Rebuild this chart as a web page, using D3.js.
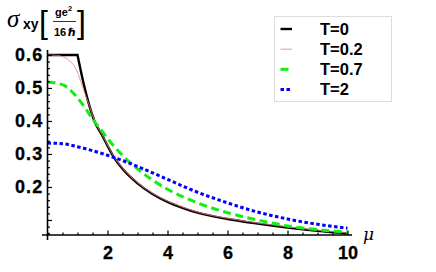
<!DOCTYPE html>
<html>
<head>
<meta charset="utf-8">
<script src="https://cdn.jsdelivr.net/npm/d3@7"></script>
<style>
  body { margin: 0; background: #fff; }
  svg { display: block; }
  text { font-family: "Liberation Sans", Arial, sans-serif; font-weight: bold; fill: #000; }
</style>
</head>
<body>
<svg id="chart" width="436" height="272"></svg>
<script>
'use strict';

// values
const t0Mu  = [0, 1, 1.2, 1.4, 1.6, 1.8, 2, 2.2, 2.5, 3, 3.5, 4, 4.5, 5, 6, 7, 8, 9, 10];
const t0Val = [0.6, 0.6, 0.515, 0.445, 0.392, 0.36, 0.325, 0.292, 0.255, 0.211, 0.179, 0.155, 0.137, 0.122, 0.103, 0.089, 0.077, 0.067, 0.059];

const t02Mu  = [0, 0.3, 0.5, 0.7, 0.9, 1, 1.1, 1.2, 1.3, 1.4, 1.6, 1.8, 2, 2.2, 2.5, 3, 3.5, 4, 4.5, 5, 6, 7, 8, 9, 10];
const t02Val = [0.6, 0.599, 0.595, 0.585, 0.565, 0.548, 0.522, 0.495, 0.47, 0.445, 0.394, 0.362, 0.327, 0.294, 0.257, 0.213, 0.181, 0.157, 0.139, 0.124, 0.105, 0.091, 0.079, 0.069, 0.061];

const t07Mu  = [0, 0.5, 0.8, 1, 1.25, 1.5, 1.75, 2, 2.25, 2.5, 2.75, 3, 3.5, 4, 4.5, 5, 6, 7, 8, 9, 10];
const t07Val = [0.518, 0.51, 0.49, 0.47, 0.44, 0.406, 0.377, 0.347, 0.32, 0.296, 0.274, 0.255, 0.221, 0.193, 0.171, 0.152, 0.122, 0.1, 0.082, 0.071, 0.063];

const t2Mu  = [0, 0.5, 1, 1.5, 2, 2.5, 3, 3.5, 4, 4.5, 5, 6, 7, 8, 9, 10];
const t2Val = [0.333, 0.331, 0.322, 0.31, 0.296, 0.28, 0.262, 0.243, 0.223, 0.203, 0.184, 0.152, 0.124, 0.103, 0.087, 0.075];

const xMajor = [2, 4, 6, 8, 10];
const yMajor = [0.2, 0.3, 0.4, 0.5, 0.6];
const yMajorUnlabeled = [0.1];
const legendLabels = ['T=0', 'T=0.2', 'T=0.7', 'T=2'];

const series = [
  {mu: t0Mu,  val: t0Val,  color: '#000000', width: 2.4, dash: null, kink: 1},
  {mu: t02Mu, val: t02Val, color: '#f07878', width: 0.8, dash: null},
  {mu: t07Mu, val: t07Val, color: '#11ee11', width: 3,   dash: '8,4.5'},
  {mu: t2Mu,  val: t2Val,  color: '#0000ff', width: 3,   dash: '3.5,2.5'}
];

const svg = d3.select('#chart');
const x = d3.scaleLinear().domain([0, 10.15]).range([47.5, 352]);
const y = d3.scaleLinear().domain([0.0545, 0.615]).range([235, 50]);

/***** CURVES *****/
const smooth = d3.line().x(d => x(d[0])).y(d => y(d[1])).curve(d3.curveMonotoneX);
const straight = d3.line().x(d => x(d[0])).y(d => y(d[1]));

series.forEach(s => {
  const pts = s.mu.map((m, i) => [m, s.val[i]]);
  let d;
  if (s.kink !== undefined) {
    const k = s.mu.indexOf(s.kink);
    d = straight(pts.slice(0, k + 1)) + smooth(pts.slice(k)).replace(/^M/, 'L');
  } else {
    d = smooth(pts);
  }
  svg.append('path')
     .attr('d', d)
     .attr('fill', 'none')
     .attr('stroke', s.color)
     .attr('stroke-width', s.width)
     .attr('stroke-dasharray', s.dash);
});

/***** AXES *****/
const xMinor = d3.range(0, 10.01, 0.5).filter(v => !xMajor.includes(v));
const yMinor = d3.range(0.06, 0.601, 0.02).filter(v => !yMajor.concat(yMajorUnlabeled).some(m => Math.abs(m - v) < 1e-6));

const gx = svg.append('g').attr('transform', 'translate(0,' + y.range()[0] + ')');
gx.append('g').call(d3.axisBottom(x).tickValues(xMinor).tickSize(-2.5).tickFormat(''));
gx.append('g').call(d3.axisBottom(x).tickValues(xMajor).tickSize(-4.5).tickPadding(9).tickFormat(d3.format('d')));
gx.selectAll('.domain').remove();
gx.selectAll('line').attr('stroke', '#000').attr('stroke-width', 1.2);
gx.selectAll('text').attr('font-size', 18).attr('font-family', null)
  .attr('stroke', '#000').attr('stroke-width', 0.3)
  .attr('dy', '0.72em').attr('y', 11);

const gy = svg.append('g').attr('transform', 'translate(' + x(0) + ',0)');
gy.append('g').call(d3.axisLeft(y).tickValues(yMinor).tickSize(-2.5).tickFormat(''));
gy.append('g').call(d3.axisLeft(y).tickValues(yMajorUnlabeled).tickSize(-4.5).tickFormat(''));
gy.append('g').call(d3.axisLeft(y).tickValues(yMajor).tickSize(-4.5).tickPadding(5).tickFormat(d3.format('.1f')));
gy.selectAll('.domain').remove();
gy.selectAll('line').attr('stroke', '#000').attr('stroke-width', 1.2);
gy.selectAll('text').attr('font-size', 18).attr('font-family', null)
  .attr('stroke', '#000').attr('stroke-width', 0.3)
  .attr('letter-spacing', 1.2).attr('x', -4);

// axis lines
svg.append('line')
   .attr('x1', x(0) - 5.5).attr('x2', x.range()[1])
   .attr('y1', y.range()[0]).attr('y2', y.range()[0])
   .attr('stroke', '#000').attr('stroke-width', 1.6);
svg.append('line')
   .attr('x1', x(0)).attr('x2', x(0))
   .attr('y1', y.range()[0] + 5).attr('y2', y.range()[1])
   .attr('stroke', '#000').attr('stroke-width', 1.6);

// axis labels
svg.append('text')
   .attr('x', 363).attr('y', 240)
   .attr('font-size', 17).style('font-weight', 'normal').style('font-style', 'italic')
   .style('font-family', '"DejaVu Serif", serif')
   .text('μ');

const title = svg.append('g');
title.append('text').attr('x', 7).attr('y', 27)
     .style('font-family', '"Liberation Serif", "DejaVu Serif", serif')
     .style('font-style', 'italic').style('font-weight', 'normal')
     .attr('font-size', 25).text('σ');
title.append('text').attr('x', 23).attr('y', 29).attr('font-size', 14).text('xy');
title.append('text').attr('x', 39).attr('y', 33)
     .style('font-weight', 'normal').attr('font-size', 32).text('[');
title.append('text').attr('x', 55).attr('y', 16).attr('font-size', 11).text('ge');
title.append('text').attr('x', 68).attr('y', 11).attr('font-size', 7.5).text('2');
title.append('line').attr('x1', 53).attr('x2', 76).attr('y1', 21.5).attr('y2', 21.5)
     .attr('stroke', '#000').attr('stroke-width', 0.8);
title.append('text').attr('x', 54).attr('y', 36).attr('font-size', 11).text('16');
title.append('text').attr('x', 68).attr('y', 36).attr('font-size', 11)
     .style('font-family', '"DejaVu Sans", sans-serif').style('font-style', 'italic').text('ℏ');
title.append('text').attr('x', 77).attr('y', 33)
     .style('font-weight', 'normal').attr('font-size', 32).text(']');

/***** LEGEND *****/
const legend = svg.append('g');
legend.append('rect')
      .attr('x', 274.5).attr('y', 16.5).attr('width', 117).attr('height', 85)
      .attr('fill', '#fff').attr('stroke', '#ddd').attr('stroke-width', 1);
const rowY = d3.scalePoint().domain(legendLabels).range([29, 89.5]);
legendLabels.forEach((lab, i) => {
  const s = series[i];
  legend.append('line')
        .attr('x1', 280.5).attr('x2', 292).attr('y1', rowY(lab)).attr('y2', rowY(lab))
        .attr('stroke', s.color).attr('stroke-width', i === 1 ? 0.8 : (i === 0 ? 2.4 : 3))
        .attr('stroke-dasharray', i === 3 ? '3.5,2.5' : (i === 2 ? '8,4.5' : null));
  legend.append('text')
        .attr('x', 320).attr('y', rowY(lab)).attr('dy', '0.36em')
        .attr('font-size', 16.5).text(lab);
});
</script>
</body>
</html>
